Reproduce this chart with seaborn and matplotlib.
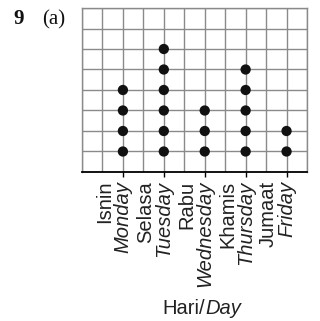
import matplotlib
matplotlib.use("Agg")
import matplotlib.pyplot as plt
import matplotlib.transforms as mtransforms
import numpy as np
import pandas as pd
import seaborn as sns

# Dot plot: number of items per school day
days_ms = ["Isnin", "Selasa", "Rabu", "Khamis", "Jumaat"]
days_en = ["Monday", "Tuesday", "Wednesday", "Thursday", "Friday"]
counts = [4, 6, 3, 5, 2]

n_cols = 11      # grid columns
n_rows = 8       # grid rows
day_step = 2     # days sit on every second vertical grid line

# one row per dot, stacked from the bottom
rows = []
for i, (d, c) in enumerate(zip(days_en, counts)):
    for level in range(1, c + 1):
        rows.append({"day": d, "pos": day_step * (i + 1), "level": level})
dots = pd.DataFrame(rows)

sns.set_theme(style="white")
plt.rcParams["font.family"] = ["Liberation Sans", "DejaVu Sans"]

W, H, DPI = 320, 321, 100
fig = plt.figure(figsize=(W / DPI, H / DPI), dpi=DPI)
ax_left, ax_right, ax_top, ax_bottom = 82, 307, 8, 172
ax = fig.add_axes([ax_left / W, 1 - ax_bottom / H,
                   (ax_right - ax_left) / W, (ax_bottom - ax_top) / H])

grid_col = "#8a8a8a"
ax.set_xlim(0, n_cols)
ax.set_ylim(0, n_rows)
ax.xaxis.remove_overlapping_locs = False
ax.set_xticks(np.arange(0, n_cols + 1), minor=True)
ax.set_yticks(np.arange(0, n_rows + 1), minor=True)
ax.grid(which="minor", color=grid_col, linewidth=1.0)
ax.grid(which="major", visible=False)
ax.set_axisbelow(True)

day_pos = [day_step * (i + 1) for i in range(len(days_en))]
ax.set_xticks(day_pos)
ax.set_xticklabels([])
ax.set_yticks([])
ax.tick_params(axis="x", which="major", direction="out", length=3.5,
               width=1.0, color="black", bottom=True)
ax.tick_params(axis="x", which="minor", length=0)
ax.tick_params(axis="y", which="both", length=0)

for side in ("left", "right", "top"):
    ax.spines[side].set_color(grid_col)
    ax.spines[side].set_linewidth(1.0)
ax.spines["bottom"].set_color("black")
ax.spines["bottom"].set_linewidth(1.3)

sns.scatterplot(data=dots, x="pos", y="level", ax=ax, s=55, color="#111111",
                edgecolor="none", legend=False, zorder=3, clip_on=False)
ax.set_xlabel("")
ax.set_ylabel("")

# two-line rotated day labels: Malay above, English (italic) on the tick
xt = ax.get_xaxis_transform()
fs = 14.5
for p, ms, en in zip(day_pos, days_ms, days_en):
    t_en = mtransforms.offset_copy(xt, fig=fig, x=0, y=-9, units="dots")
    t_ms = mtransforms.offset_copy(xt, fig=fig, x=-18, y=-9, units="dots")
    ax.text(p, 0, en, transform=t_en, rotation=90, ha="center", va="top",
            fontsize=fs, style="italic", color="#222222")
    ax.text(p, 0, ms, transform=t_ms, rotation=90, ha="center", va="top",
            fontsize=fs, color="#222222")

# axis title "Hari/Day"
split_x = 205 / W
base_y = 1 - 314 / H
fig.text(split_x, base_y, "Hari/", ha="right", va="baseline", fontsize=fs,
         color="#222222")
fig.text(split_x, base_y, "Day", ha="left", va="baseline", fontsize=fs,
         style="italic", color="#222222")

# question number
fig.text(13 / W, 1 - 24 / H, "9", ha="left", va="baseline", fontsize=15,
         fontweight="bold", family="Liberation Serif", color="#111111")
fig.text(42 / W, 1 - 24 / H, "(a)", ha="left", va="baseline", fontsize=15,
         family="Liberation Serif", color="#111111")

fig.savefig("out.png", dpi=DPI)
